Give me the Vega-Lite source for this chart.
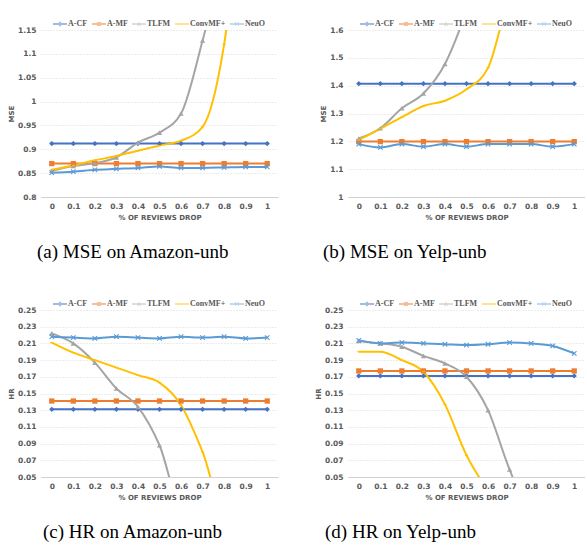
{
  "$schema": "https://vega.github.io/schema/vega-lite/v6.json",
  "background": "white",
  "padding": {"left": 7, "top": 17, "right": 0, "bottom": 0},
  "columns": 2,
  "spacing": {"column": 70, "row": 113},
  "bounds": "flush",
  "datasets": {
    "a": [
      {"drop":0,"model":"A-CF","value":0.912},{"drop":0.1,"model":"A-CF","value":0.912},{"drop":0.2,"model":"A-CF","value":0.912},{"drop":0.3,"model":"A-CF","value":0.912},{"drop":0.4,"model":"A-CF","value":0.912},{"drop":0.5,"model":"A-CF","value":0.912},{"drop":0.6,"model":"A-CF","value":0.912},{"drop":0.7,"model":"A-CF","value":0.912},{"drop":0.8,"model":"A-CF","value":0.912},{"drop":0.9,"model":"A-CF","value":0.912},{"drop":1,"model":"A-CF","value":0.912},
      {"drop":0,"model":"A-MF","value":0.87},{"drop":0.1,"model":"A-MF","value":0.87},{"drop":0.2,"model":"A-MF","value":0.87},{"drop":0.3,"model":"A-MF","value":0.87},{"drop":0.4,"model":"A-MF","value":0.87},{"drop":0.5,"model":"A-MF","value":0.87},{"drop":0.6,"model":"A-MF","value":0.87},{"drop":0.7,"model":"A-MF","value":0.87},{"drop":0.8,"model":"A-MF","value":0.87},{"drop":0.9,"model":"A-MF","value":0.87},{"drop":1,"model":"A-MF","value":0.87},
      {"drop":0,"model":"TLFM","value":0.855},{"drop":0.1,"model":"TLFM","value":0.865},{"drop":0.2,"model":"TLFM","value":0.871},{"drop":0.3,"model":"TLFM","value":0.883},{"drop":0.4,"model":"TLFM","value":0.914},{"drop":0.5,"model":"TLFM","value":0.935},{"drop":0.6,"model":"TLFM","value":0.975},{"drop":0.7,"model":"TLFM","value":1.128},{"drop":0.8,"model":"TLFM","value":1.31},{"drop":0.9,"model":"TLFM","value":1.5},{"drop":1,"model":"TLFM","value":1.7},
      {"drop":0,"model":"ConvMF+","value":0.857},{"drop":0.1,"model":"ConvMF+","value":0.866},{"drop":0.2,"model":"ConvMF+","value":0.877},{"drop":0.3,"model":"ConvMF+","value":0.886},{"drop":0.4,"model":"ConvMF+","value":0.897},{"drop":0.5,"model":"ConvMF+","value":0.908},{"drop":0.6,"model":"ConvMF+","value":0.918},{"drop":0.7,"model":"ConvMF+","value":0.947},{"drop":0.8,"model":"ConvMF+","value":1.12},{"drop":0.9,"model":"ConvMF+","value":1.51},{"drop":1,"model":"ConvMF+","value":1.8},
      {"drop":0,"model":"NeuO","value":0.851},{"drop":0.1,"model":"NeuO","value":0.853},{"drop":0.2,"model":"NeuO","value":0.857},{"drop":0.3,"model":"NeuO","value":0.859},{"drop":0.4,"model":"NeuO","value":0.861},{"drop":0.5,"model":"NeuO","value":0.864},{"drop":0.6,"model":"NeuO","value":0.861},{"drop":0.7,"model":"NeuO","value":0.861},{"drop":0.8,"model":"NeuO","value":0.862},{"drop":0.9,"model":"NeuO","value":0.863},{"drop":1,"model":"NeuO","value":0.863}
    ],
    "b": [
      {"drop":0,"model":"A-CF","value":1.407},{"drop":0.1,"model":"A-CF","value":1.407},{"drop":0.2,"model":"A-CF","value":1.407},{"drop":0.3,"model":"A-CF","value":1.407},{"drop":0.4,"model":"A-CF","value":1.407},{"drop":0.5,"model":"A-CF","value":1.407},{"drop":0.6,"model":"A-CF","value":1.407},{"drop":0.7,"model":"A-CF","value":1.407},{"drop":0.8,"model":"A-CF","value":1.407},{"drop":0.9,"model":"A-CF","value":1.407},{"drop":1,"model":"A-CF","value":1.407},
      {"drop":0,"model":"A-MF","value":1.199},{"drop":0.1,"model":"A-MF","value":1.199},{"drop":0.2,"model":"A-MF","value":1.199},{"drop":0.3,"model":"A-MF","value":1.199},{"drop":0.4,"model":"A-MF","value":1.199},{"drop":0.5,"model":"A-MF","value":1.199},{"drop":0.6,"model":"A-MF","value":1.199},{"drop":0.7,"model":"A-MF","value":1.199},{"drop":0.8,"model":"A-MF","value":1.199},{"drop":0.9,"model":"A-MF","value":1.199},{"drop":1,"model":"A-MF","value":1.199},
      {"drop":0,"model":"TLFM","value":1.21},{"drop":0.1,"model":"TLFM","value":1.247},{"drop":0.2,"model":"TLFM","value":1.319},{"drop":0.3,"model":"TLFM","value":1.372},{"drop":0.4,"model":"TLFM","value":1.478},{"drop":0.5,"model":"TLFM","value":1.667},{"drop":0.6,"model":"TLFM","value":1.9},{"drop":0.7,"model":"TLFM","value":2.1},{"drop":0.8,"model":"TLFM","value":2.3},{"drop":0.9,"model":"TLFM","value":2.5},{"drop":1,"model":"TLFM","value":2.7},
      {"drop":0,"model":"ConvMF+","value":1.205},{"drop":0.1,"model":"ConvMF+","value":1.245},{"drop":0.2,"model":"ConvMF+","value":1.287},{"drop":0.3,"model":"ConvMF+","value":1.327},{"drop":0.4,"model":"ConvMF+","value":1.346},{"drop":0.5,"model":"ConvMF+","value":1.387},{"drop":0.6,"model":"ConvMF+","value":1.464},{"drop":0.7,"model":"ConvMF+","value":1.74},{"drop":0.8,"model":"ConvMF+","value":2.0},{"drop":0.9,"model":"ConvMF+","value":2.2},{"drop":1,"model":"ConvMF+","value":2.4},
      {"drop":0,"model":"NeuO","value":1.19},{"drop":0.1,"model":"NeuO","value":1.178},{"drop":0.2,"model":"NeuO","value":1.19},{"drop":0.3,"model":"NeuO","value":1.181},{"drop":0.4,"model":"NeuO","value":1.19},{"drop":0.5,"model":"NeuO","value":1.181},{"drop":0.6,"model":"NeuO","value":1.19},{"drop":0.7,"model":"NeuO","value":1.19},{"drop":0.8,"model":"NeuO","value":1.19},{"drop":0.9,"model":"NeuO","value":1.181},{"drop":1,"model":"NeuO","value":1.19}
    ],
    "c": [
      {"drop":0,"model":"A-CF","value":0.131},{"drop":0.1,"model":"A-CF","value":0.131},{"drop":0.2,"model":"A-CF","value":0.131},{"drop":0.3,"model":"A-CF","value":0.131},{"drop":0.4,"model":"A-CF","value":0.131},{"drop":0.5,"model":"A-CF","value":0.131},{"drop":0.6,"model":"A-CF","value":0.131},{"drop":0.7,"model":"A-CF","value":0.131},{"drop":0.8,"model":"A-CF","value":0.131},{"drop":0.9,"model":"A-CF","value":0.131},{"drop":1,"model":"A-CF","value":0.131},
      {"drop":0,"model":"A-MF","value":0.141},{"drop":0.1,"model":"A-MF","value":0.141},{"drop":0.2,"model":"A-MF","value":0.141},{"drop":0.3,"model":"A-MF","value":0.141},{"drop":0.4,"model":"A-MF","value":0.141},{"drop":0.5,"model":"A-MF","value":0.141},{"drop":0.6,"model":"A-MF","value":0.141},{"drop":0.7,"model":"A-MF","value":0.141},{"drop":0.8,"model":"A-MF","value":0.141},{"drop":0.9,"model":"A-MF","value":0.141},{"drop":1,"model":"A-MF","value":0.141},
      {"drop":0,"model":"TLFM","value":0.222},{"drop":0.1,"model":"TLFM","value":0.21},{"drop":0.2,"model":"TLFM","value":0.187},{"drop":0.3,"model":"TLFM","value":0.156},{"drop":0.4,"model":"TLFM","value":0.134},{"drop":0.5,"model":"TLFM","value":0.088},{"drop":0.6,"model":"TLFM","value":0.015},{"drop":0.7,"model":"TLFM","value":0.01},{"drop":0.8,"model":"TLFM","value":0.008},{"drop":0.9,"model":"TLFM","value":0.006},{"drop":1,"model":"TLFM","value":0.005},
      {"drop":0,"model":"ConvMF+","value":0.211},{"drop":0.1,"model":"ConvMF+","value":0.199},{"drop":0.2,"model":"ConvMF+","value":0.19},{"drop":0.3,"model":"ConvMF+","value":0.181},{"drop":0.4,"model":"ConvMF+","value":0.172},{"drop":0.5,"model":"ConvMF+","value":0.163},{"drop":0.6,"model":"ConvMF+","value":0.136},{"drop":0.7,"model":"ConvMF+","value":0.08},{"drop":0.8,"model":"ConvMF+","value":0.008},{"drop":0.9,"model":"ConvMF+","value":0.005},{"drop":1,"model":"ConvMF+","value":0.004},
      {"drop":0,"model":"NeuO","value":0.218},{"drop":0.1,"model":"NeuO","value":0.217},{"drop":0.2,"model":"NeuO","value":0.216},{"drop":0.3,"model":"NeuO","value":0.218},{"drop":0.4,"model":"NeuO","value":0.217},{"drop":0.5,"model":"NeuO","value":0.216},{"drop":0.6,"model":"NeuO","value":0.218},{"drop":0.7,"model":"NeuO","value":0.217},{"drop":0.8,"model":"NeuO","value":0.218},{"drop":0.9,"model":"NeuO","value":0.216},{"drop":1,"model":"NeuO","value":0.217}
    ],
    "d": [
      {"drop":0,"model":"A-CF","value":0.171},{"drop":0.1,"model":"A-CF","value":0.171},{"drop":0.2,"model":"A-CF","value":0.171},{"drop":0.3,"model":"A-CF","value":0.171},{"drop":0.4,"model":"A-CF","value":0.171},{"drop":0.5,"model":"A-CF","value":0.171},{"drop":0.6,"model":"A-CF","value":0.171},{"drop":0.7,"model":"A-CF","value":0.171},{"drop":0.8,"model":"A-CF","value":0.171},{"drop":0.9,"model":"A-CF","value":0.171},{"drop":1,"model":"A-CF","value":0.171},
      {"drop":0,"model":"A-MF","value":0.177},{"drop":0.1,"model":"A-MF","value":0.177},{"drop":0.2,"model":"A-MF","value":0.177},{"drop":0.3,"model":"A-MF","value":0.177},{"drop":0.4,"model":"A-MF","value":0.177},{"drop":0.5,"model":"A-MF","value":0.177},{"drop":0.6,"model":"A-MF","value":0.177},{"drop":0.7,"model":"A-MF","value":0.177},{"drop":0.8,"model":"A-MF","value":0.177},{"drop":0.9,"model":"A-MF","value":0.177},{"drop":1,"model":"A-MF","value":0.177},
      {"drop":0,"model":"TLFM","value":0.213},{"drop":0.1,"model":"TLFM","value":0.21},{"drop":0.2,"model":"TLFM","value":0.206},{"drop":0.3,"model":"TLFM","value":0.195},{"drop":0.4,"model":"TLFM","value":0.186},{"drop":0.5,"model":"TLFM","value":0.17},{"drop":0.6,"model":"TLFM","value":0.13},{"drop":0.7,"model":"TLFM","value":0.059},{"drop":0.8,"model":"TLFM","value":0.005},{"drop":0.9,"model":"TLFM","value":0.004},{"drop":1,"model":"TLFM","value":0.003},
      {"drop":0,"model":"ConvMF+","value":0.2},{"drop":0.1,"model":"ConvMF+","value":0.2},{"drop":0.2,"model":"ConvMF+","value":0.19},{"drop":0.3,"model":"ConvMF+","value":0.176},{"drop":0.4,"model":"ConvMF+","value":0.137},{"drop":0.5,"model":"ConvMF+","value":0.076},{"drop":0.6,"model":"ConvMF+","value":0.036},{"drop":0.7,"model":"ConvMF+","value":0.02},{"drop":0.8,"model":"ConvMF+","value":0.01},{"drop":0.9,"model":"ConvMF+","value":0.008},{"drop":1,"model":"ConvMF+","value":0.006},
      {"drop":0,"model":"NeuO","value":0.2136},{"drop":0.1,"model":"NeuO","value":0.21},{"drop":0.2,"model":"NeuO","value":0.211},{"drop":0.3,"model":"NeuO","value":0.21},{"drop":0.4,"model":"NeuO","value":0.209},{"drop":0.5,"model":"NeuO","value":0.208},{"drop":0.6,"model":"NeuO","value":0.209},{"drop":0.7,"model":"NeuO","value":0.211},{"drop":0.8,"model":"NeuO","value":0.21},{"drop":0.9,"model":"NeuO","value":0.207},{"drop":1,"model":"NeuO","value":0.198}
    ]
  },
  "concat": [
    {
      "title": {"text": "(a) MSE on Amazon-unb", "orient": "bottom", "anchor": "start", "frame": "group", "dx": -4},
      "data": {"name": "a"},
      "width": 237, "height": 167,
      "encoding": {
        "x": {"field": "drop", "type": "ordinal", "bandPosition": 0.5, "scale": {"type": "band", "paddingInner": 0, "paddingOuter": 0}, "axis": {"title": "% OF REVIEWS DROP"}},
        "y": {"field": "value", "type": "quantitative", "scale": {"domain": [0.8, 1.15], "zero": false, "nice": false}, "axis": {"title": "MSE", "values": [0.8, 0.85, 0.9, 0.95, 1, 1.05, 1.1, 1.15], "format": "~g"}}
      },
      "layer": [
        {"mark": {"type": "line", "strokeWidth": 2, "interpolate": "monotone", "clip": true},
         "encoding": {"color": {"field": "model", "type": "nominal", "scale": {"domain": ["A-CF","A-MF","TLFM","ConvMF+","NeuO"], "range": ["#4472C4","#ED7D31","#A5A5A5","#FFC000","#5B9BD5"]}, "legend": null}}},
        {"mark": {"type": "point", "filled": true, "opacity": 1, "clip": true, "size": 28},
         "encoding": {"color": {"field": "model", "type": "nominal", "legend": null},
                      "shape": {"field": "model", "type": "nominal", "scale": {"domain": ["A-CF","A-MF","TLFM","ConvMF+","NeuO"], "range": ["diamond","square","triangle-up","M-0.6,-0.2H0.6V0.2H-0.6Z","M-1,-0.7L-0.7,-1L0,-0.3L0.7,-1L1,-0.7L0.3,0L1,0.7L0.7,1L0,0.3L-0.7,1L-1,0.7L-0.3,0Z"]}, "legend": null}}},
        {"transform": [{"filter": "false"}],
         "mark": {"type": "point", "filled": true},
         "encoding": {
           "fill": {"field": "model", "type": "nominal", "scale": {"domain": ["A-CF","A-MF","TLFM","ConvMF+","NeuO"], "range": ["#4472C4","#ED7D31","#A5A5A5","#FFC000","#5B9BD5"]}, "legend": {"title": null, "orient": "none", "legendX": 12, "legendY": -13, "direction": "horizontal", "columns": 5, "gridAlign": "none"}},
           "shape": {"field": "model", "type": "nominal", "scale": {"domain": ["A-CF","A-MF","TLFM","ConvMF+","NeuO"], "range": ["M-1,-0.13H1V0.13H-1Z M0,-0.4L0.35,0L0,0.4L-0.35,0Z","M-1,-0.13H1V0.13H-1Z M-0.3,-0.3H0.3V0.3H-0.3Z","M-1,-0.1H1V0.1H-1Z M0,-0.32L0.3,0.22H-0.3Z","M-1,-0.13H1V0.13H-1Z","M-1,-0.1H1V0.1H-1Z M-0.3,-0.22L-0.22,-0.3L0,-0.08L0.22,-0.3L0.3,-0.22L0.08,0L0.3,0.22L0.22,0.3L0,0.08L-0.22,0.3L-0.3,0.22L-0.08,0Z"]}, "legend": {"title": null, "orient": "none", "legendX": 12, "legendY": -13, "direction": "horizontal", "columns": 5, "gridAlign": "none"}}
         }}
      ],
      "resolve": {"scale": {"shape": "independent", "fill": "independent"}}
    },
    {
      "title": {"text": "(b) MSE on Yelp-unb", "orient": "bottom", "anchor": "start", "frame": "group", "dx": -25},
      "data": {"name": "b"},
      "width": 237, "height": 167,
      "encoding": {
        "x": {"field": "drop", "type": "ordinal", "bandPosition": 0.5, "scale": {"type": "band", "paddingInner": 0, "paddingOuter": 0}, "axis": {"title": "% OF REVIEWS DROP"}},
        "y": {"field": "value", "type": "quantitative", "scale": {"domain": [1, 1.6], "zero": false, "nice": false}, "axis": {"title": "MSE", "values": [1, 1.1, 1.2, 1.3, 1.4, 1.5, 1.6], "format": "~g"}}
      },
      "layer": [
        {"mark": {"type": "line", "strokeWidth": 2, "interpolate": "monotone", "clip": true},
         "encoding": {"color": {"field": "model", "type": "nominal", "scale": {"domain": ["A-CF","A-MF","TLFM","ConvMF+","NeuO"], "range": ["#4472C4","#ED7D31","#A5A5A5","#FFC000","#5B9BD5"]}, "legend": null}}},
        {"mark": {"type": "point", "filled": true, "opacity": 1, "clip": true, "size": 28},
         "encoding": {"color": {"field": "model", "type": "nominal", "legend": null},
                      "shape": {"field": "model", "type": "nominal", "scale": {"domain": ["A-CF","A-MF","TLFM","ConvMF+","NeuO"], "range": ["diamond","square","triangle-up","M-0.6,-0.2H0.6V0.2H-0.6Z","M-1,-0.7L-0.7,-1L0,-0.3L0.7,-1L1,-0.7L0.3,0L1,0.7L0.7,1L0,0.3L-0.7,1L-1,0.7L-0.3,0Z"]}, "legend": null}}},
        {"transform": [{"filter": "false"}],
         "mark": {"type": "point", "filled": true},
         "encoding": {
           "fill": {"field": "model", "type": "nominal", "scale": {"domain": ["A-CF","A-MF","TLFM","ConvMF+","NeuO"], "range": ["#4472C4","#ED7D31","#A5A5A5","#FFC000","#5B9BD5"]}, "legend": {"title": null, "orient": "none", "legendX": 12, "legendY": -13, "direction": "horizontal", "columns": 5, "gridAlign": "none"}},
           "shape": {"field": "model", "type": "nominal", "scale": {"domain": ["A-CF","A-MF","TLFM","ConvMF+","NeuO"], "range": ["M-1,-0.13H1V0.13H-1Z M0,-0.4L0.35,0L0,0.4L-0.35,0Z","M-1,-0.13H1V0.13H-1Z M-0.3,-0.3H0.3V0.3H-0.3Z","M-1,-0.1H1V0.1H-1Z M0,-0.32L0.3,0.22H-0.3Z","M-1,-0.13H1V0.13H-1Z","M-1,-0.1H1V0.1H-1Z M-0.3,-0.22L-0.22,-0.3L0,-0.08L0.22,-0.3L0.3,-0.22L0.08,0L0.3,0.22L0.22,0.3L0,0.08L-0.22,0.3L-0.3,0.22L-0.08,0Z"]}, "legend": {"title": null, "orient": "none", "legendX": 12, "legendY": -13, "direction": "horizontal", "columns": 5, "gridAlign": "none"}}
         }}
      ],
      "resolve": {"scale": {"shape": "independent", "fill": "independent"}}
    },
    {
      "title": {"text": "(c) HR on Amazon-unb", "orient": "bottom", "anchor": "start", "frame": "group", "dx": 2},
      "data": {"name": "c"},
      "width": 237, "height": 167,
      "encoding": {
        "x": {"field": "drop", "type": "ordinal", "bandPosition": 0.5, "scale": {"type": "band", "paddingInner": 0, "paddingOuter": 0}, "axis": {"title": "% OF REVIEWS DROP"}},
        "y": {"field": "value", "type": "quantitative", "scale": {"domain": [0.05, 0.25], "zero": false, "nice": false}, "axis": {"title": "HR", "values": [0.05, 0.07, 0.09, 0.11, 0.13, 0.15, 0.17, 0.19, 0.21, 0.23, 0.25], "format": "~g"}}
      },
      "layer": [
        {"mark": {"type": "line", "strokeWidth": 2, "interpolate": "monotone", "clip": true},
         "encoding": {"color": {"field": "model", "type": "nominal", "scale": {"domain": ["A-CF","A-MF","TLFM","ConvMF+","NeuO"], "range": ["#4472C4","#ED7D31","#A5A5A5","#FFC000","#5B9BD5"]}, "legend": null}}},
        {"mark": {"type": "point", "filled": true, "opacity": 1, "clip": true, "size": 28},
         "encoding": {"color": {"field": "model", "type": "nominal", "legend": null},
                      "shape": {"field": "model", "type": "nominal", "scale": {"domain": ["A-CF","A-MF","TLFM","ConvMF+","NeuO"], "range": ["diamond","square","triangle-up","M-0.6,-0.2H0.6V0.2H-0.6Z","M-1,-0.7L-0.7,-1L0,-0.3L0.7,-1L1,-0.7L0.3,0L1,0.7L0.7,1L0,0.3L-0.7,1L-1,0.7L-0.3,0Z"]}, "legend": null}}},
        {"transform": [{"filter": "false"}],
         "mark": {"type": "point", "filled": true},
         "encoding": {
           "fill": {"field": "model", "type": "nominal", "scale": {"domain": ["A-CF","A-MF","TLFM","ConvMF+","NeuO"], "range": ["#4472C4","#ED7D31","#A5A5A5","#FFC000","#5B9BD5"]}, "legend": {"title": null, "orient": "none", "legendX": 12, "legendY": -13, "direction": "horizontal", "columns": 5, "gridAlign": "none"}},
           "shape": {"field": "model", "type": "nominal", "scale": {"domain": ["A-CF","A-MF","TLFM","ConvMF+","NeuO"], "range": ["M-1,-0.13H1V0.13H-1Z M0,-0.4L0.35,0L0,0.4L-0.35,0Z","M-1,-0.13H1V0.13H-1Z M-0.3,-0.3H0.3V0.3H-0.3Z","M-1,-0.1H1V0.1H-1Z M0,-0.32L0.3,0.22H-0.3Z","M-1,-0.13H1V0.13H-1Z","M-1,-0.1H1V0.1H-1Z M-0.3,-0.22L-0.22,-0.3L0,-0.08L0.22,-0.3L0.3,-0.22L0.08,0L0.3,0.22L0.22,0.3L0,0.08L-0.22,0.3L-0.3,0.22L-0.08,0Z"]}, "legend": {"title": null, "orient": "none", "legendX": 12, "legendY": -13, "direction": "horizontal", "columns": 5, "gridAlign": "none"}}
         }}
      ],
      "resolve": {"scale": {"shape": "independent", "fill": "independent"}}
    },
    {
      "title": {"text": "(d) HR on Yelp-unb", "orient": "bottom", "anchor": "start", "frame": "group", "dx": -23},
      "data": {"name": "d"},
      "width": 237, "height": 167,
      "encoding": {
        "x": {"field": "drop", "type": "ordinal", "bandPosition": 0.5, "scale": {"type": "band", "paddingInner": 0, "paddingOuter": 0}, "axis": {"title": "% OF REVIEWS DROP"}},
        "y": {"field": "value", "type": "quantitative", "scale": {"domain": [0.05, 0.25], "zero": false, "nice": false}, "axis": {"title": "HR", "values": [0.05, 0.07, 0.09, 0.11, 0.13, 0.15, 0.17, 0.19, 0.21, 0.23, 0.25], "format": "~g"}}
      },
      "layer": [
        {"mark": {"type": "line", "strokeWidth": 2, "interpolate": "monotone", "clip": true},
         "encoding": {"color": {"field": "model", "type": "nominal", "scale": {"domain": ["A-CF","A-MF","TLFM","ConvMF+","NeuO"], "range": ["#4472C4","#ED7D31","#A5A5A5","#FFC000","#5B9BD5"]}, "legend": null}}},
        {"mark": {"type": "point", "filled": true, "opacity": 1, "clip": true, "size": 28},
         "encoding": {"color": {"field": "model", "type": "nominal", "legend": null},
                      "shape": {"field": "model", "type": "nominal", "scale": {"domain": ["A-CF","A-MF","TLFM","ConvMF+","NeuO"], "range": ["diamond","square","triangle-up","M-0.6,-0.2H0.6V0.2H-0.6Z","M-1,-0.7L-0.7,-1L0,-0.3L0.7,-1L1,-0.7L0.3,0L1,0.7L0.7,1L0,0.3L-0.7,1L-1,0.7L-0.3,0Z"]}, "legend": null}}},
        {"transform": [{"filter": "false"}],
         "mark": {"type": "point", "filled": true},
         "encoding": {
           "fill": {"field": "model", "type": "nominal", "scale": {"domain": ["A-CF","A-MF","TLFM","ConvMF+","NeuO"], "range": ["#4472C4","#ED7D31","#A5A5A5","#FFC000","#5B9BD5"]}, "legend": {"title": null, "orient": "none", "legendX": 12, "legendY": -13, "direction": "horizontal", "columns": 5, "gridAlign": "none"}},
           "shape": {"field": "model", "type": "nominal", "scale": {"domain": ["A-CF","A-MF","TLFM","ConvMF+","NeuO"], "range": ["M-1,-0.13H1V0.13H-1Z M0,-0.4L0.35,0L0,0.4L-0.35,0Z","M-1,-0.13H1V0.13H-1Z M-0.3,-0.3H0.3V0.3H-0.3Z","M-1,-0.1H1V0.1H-1Z M0,-0.32L0.3,0.22H-0.3Z","M-1,-0.13H1V0.13H-1Z","M-1,-0.1H1V0.1H-1Z M-0.3,-0.22L-0.22,-0.3L0,-0.08L0.22,-0.3L0.3,-0.22L0.08,0L0.3,0.22L0.22,0.3L0,0.08L-0.22,0.3L-0.3,0.22L-0.08,0Z"]}, "legend": {"title": null, "orient": "none", "legendX": 12, "legendY": -13, "direction": "horizontal", "columns": 5, "gridAlign": "none"}}
         }}
      ],
      "resolve": {"scale": {"shape": "independent", "fill": "independent"}}
    }
  ],
  "resolve": {"scale": {"color": "independent"}},
  "config": {
    "view": {"stroke": null},
    "font": "DejaVu Sans",
    "axis": {"labelFont": "DejaVu Sans", "labelFontWeight": "bold", "labelFontSize": 7.5, "labelColor": "#595959", "titleFont": "DejaVu Sans", "titleFontWeight": "bold", "titleFontSize": 7, "titleColor": "#595959", "gridColor": "#d9d9d9", "gridDash": [1, 2], "ticks": false, "domain": false},
    "axisX": {"domain": true, "domainColor": "#d0d0d0", "tickBand": "extent", "labelPadding": 5, "titlePadding": 4, "labelAngle": 0},
    "axisY": {"labelPadding": 5, "titlePadding": 3},
    "legend": {"symbolSize": 196, "labelFont": "Liberation Serif", "labelFontWeight": "bold", "labelFontSize": 8, "labelColor": "#595959", "columnPadding": 4, "labelOffset": 1, "symbolStrokeWidth": 0},
    "title": {"font": "Liberation Serif", "fontSize": 19, "fontWeight": "normal", "color": "#000000", "offset": 22}
  }
}
